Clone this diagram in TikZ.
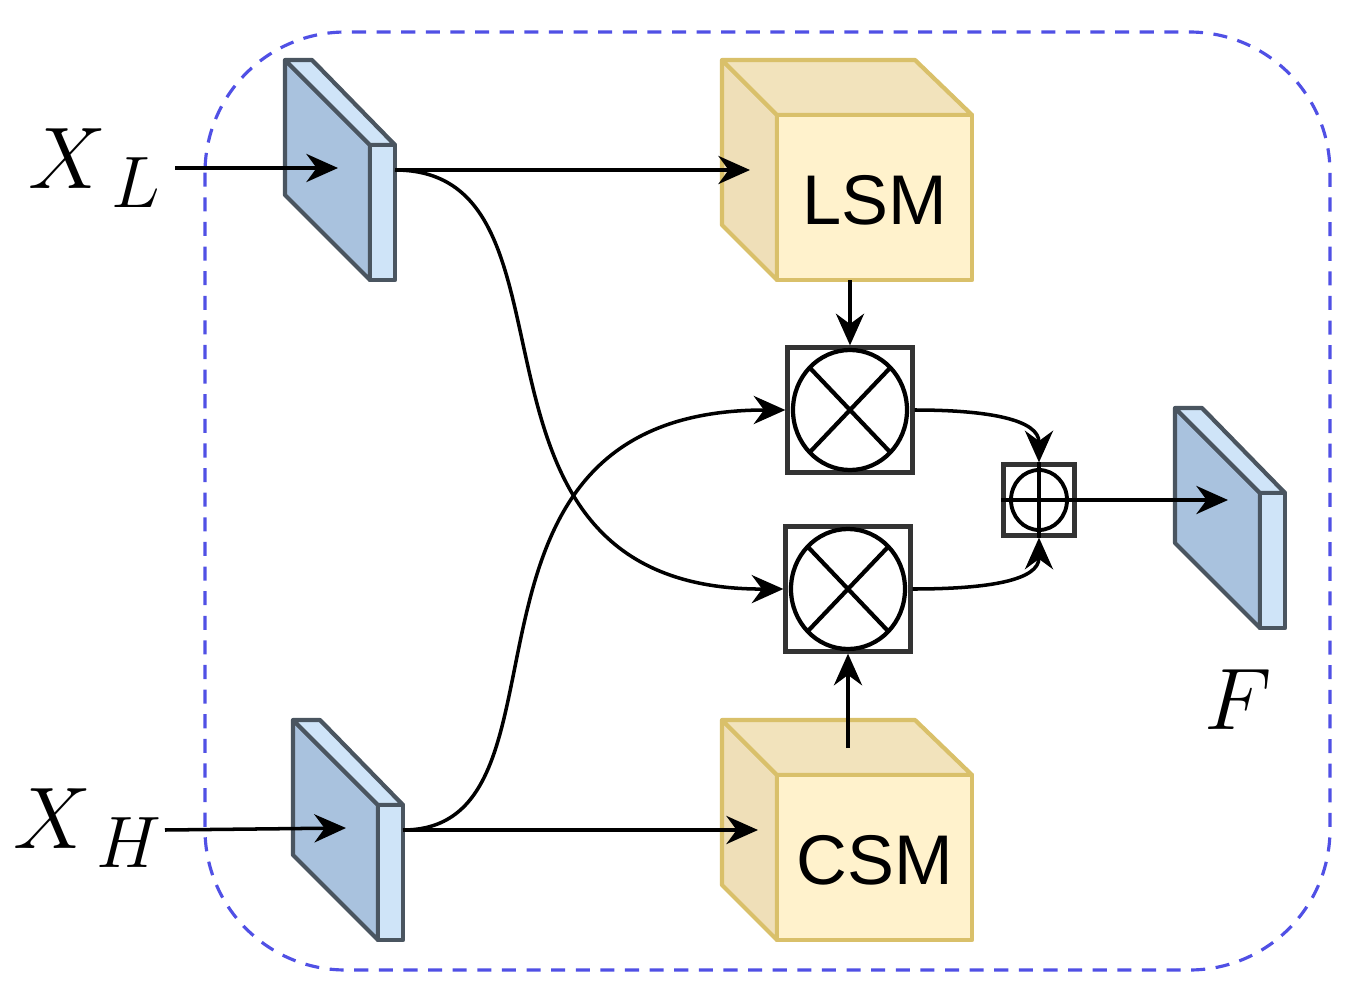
\documentclass[tikz,border=0pt]{standalone}
\usepackage{fontspec}
\newfontfamily\sans{Liberation Sans}
\usetikzlibrary{arrows.meta,calc}
\definecolor{fmfront}{HTML}{A9C2DE}
\definecolor{fmside}{HTML}{CFE4F8}
\definecolor{fmline}{HTML}{4A5560}
\definecolor{cubefront}{HTML}{FFF2CC}
\definecolor{cubeside}{HTML}{EFDFB8}
\definecolor{cubeline}{HTML}{D9C06A}
\tikzset{
  fm/.style={draw=fmline,line width=1.2pt,line join=round},
  cube/.style={draw=cubeline,line width=1.2pt,line join=round},
  arr/.style={line width=1pt,-{Stealth[length=9pt,width=8pt]}},
  lbl/.style={font=\fontsize{30}{30}\selectfont},
  opbox/.style={draw=black!80,line width=1.2pt,fill=white,inner sep=0pt},
}
\newcommand{\featmap}[3]{% x offset, y offset, name
  \begin{scope}[shift={(#1,#2)}]
  \fill[fmfront] (285,60)--(370,145)--(370,280)--(285,195)--cycle;
  \draw[fm] (285,60)--(370,145)--(370,280)--(285,195)--cycle;
  \draw[fm,fill=fmside] (285,60)--(312,60)--(395,145)--(370,145)--cycle;
  \draw[fm,fill=fmside] (370,145) rectangle (395,280);
  \coordinate (#3in) at (338,168);
  \coordinate (#3out) at (395,170);
  \end{scope}}
\newcommand{\cubebox}[3]{% y offset, name, text
  \begin{scope}[shift={(0,#1)}]
  \draw[cube,fill=cubeside] (722,60)--(777,115)--(777,280)--(722,225)--cycle;
  \draw[cube,fill=cubeside!80!cubefront] (722,60)--(915,60)--(972,115)--(777,115)--cycle;
  \draw[cube,fill=cubefront] (777,115) rectangle (972,280);
  \node[font=\sans\fontsize{20}{20}\selectfont] (#2) at (874.5,200) {#3};
  \end{scope}}
\begin{document}
\begin{tikzpicture}[x=0.01cm,y=-0.01cm]
\useasboundingbox (0,0) rectangle (1363,1003);
\draw[blue!65!white!90!black,line width=0.9pt,rounded corners=40pt,dash pattern=on 4pt off 3pt] (205,32) rectangle (1330,970);
\featmap{0}{0}{l}
\featmap{8}{660}{h}
\featmap{890}{348}{f}
\cubebox{0}{lsm}{LSM}
\cubebox{660}{csm}{CSM}
\node[lbl] (xl) at (95,168) {$X_{\,L}$};
\node[lbl] (xh) at (88,828) {$X_{\,H}$};
\node[font=\fontsize{44}{44}\selectfont] (F) at (1238,700) {$F$};
% operator boxes
\node[opbox,minimum size=1.25cm] (m1) at (850,410) {};
\draw[line width=1.2pt] (m1.center) circle[x radius=57,y radius=60];
\draw[line width=1.2pt] ($(m1.center)+(-40,-42)$) -- ++(80,84) ($(m1.center)+(40,-42)$) -- ++(-80,84);
\node[opbox,minimum size=1.25cm] (m2) at (848,589) {};
\draw[line width=1.2pt] (m2.center) circle[x radius=57,y radius=60];
\draw[line width=1.2pt] ($(m2.center)+(-40,-42)$) -- ++(80,84) ($(m2.center)+(40,-42)$) -- ++(-80,84);
\node[opbox,minimum size=0.71cm] (p) at (1039,500) {};
\draw[line width=1.1pt] (p.center) circle[x radius=28,y radius=30];
\draw[line width=1.1pt] (p.north) -- (p.south) (p.west) -- (p.east);
% connectors
\coordinate (xls) at (175,168);
\coordinate (xhs) at (165,830);
\draw[arr] (xls) -- (lin);
\draw[arr] (xhs) -- (hin);
\coordinate (lsmin) at (750,170);
\coordinate (csmin) at (758,830);
\draw[arr] (lout) -- (lsmin);
\draw[arr] (hout) -- (csmin);
\draw[arr] (lout) .. controls (600,170) and (430,590) .. (m2.west);
\draw[arr] (hout) .. controls (590,830) and (420,410) .. (m1.west);
\coordinate (lsmbot) at (850,280);
\draw[arr] (lsmbot) -- (m1.north);
\coordinate (csmtop) at (848,748);
\draw[arr] (csmtop) -- (m2.south);
\draw[arr] (m1.east) .. controls (990,410) and (1039,420) .. (p.north);
\draw[arr] (m2.east) .. controls (990,589) and (1039,580) .. (p.south);
\coordinate (fin) at (1228,500);
\draw[arr] (p.east) -- (fin);
\end{tikzpicture}
\end{document}
